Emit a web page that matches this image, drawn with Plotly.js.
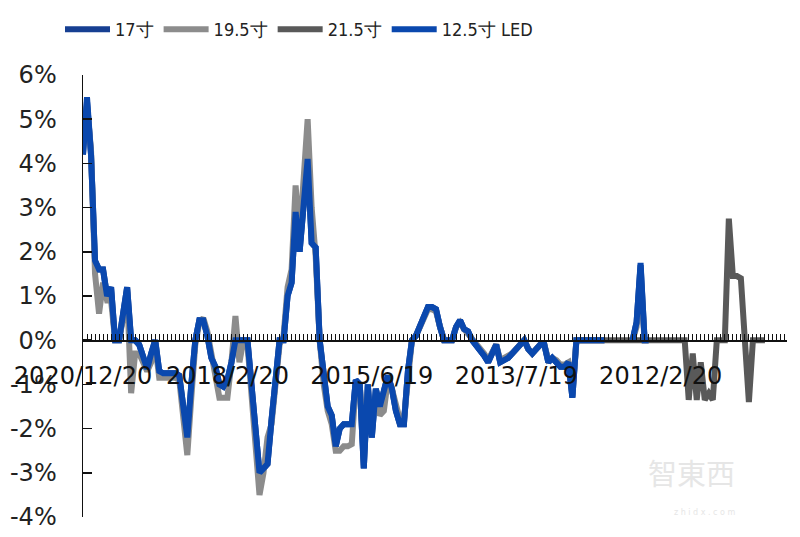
<!DOCTYPE html>
<html>
<head>
<meta charset="utf-8">
<script src="https://cdn.plot.ly/plotly-3.0.1.min.js"></script>
<style>html,body{margin:0;padding:0;background:#fff;}#chart{width:800px;height:537px;}</style>
</head>
<body>
<div id="chart"></div>
<script>
// Category labels shown on the x axis (newest on the left)
const tickLabels = ["2020/12/20", "2018/2/20", "2015/6/19", "2013/7/19", "2012/2/20"];
const tickIndex = [0, 36, 72, 108, 144];
const yTickValues = [-4, -3, -2, -1, 0, 1, 2, 3, 4, 5, 6];
const yTickLabels = ["-4%", "-3%", "-2%", "-1%", "0%", "1%", "2%", "3%", "4%", "5%", "6%"];
const seriesNames = ["17寸", "19.5寸", "21.5寸", "12.5寸 LED"];

// Values in %
const s17 = [
 4.2, 5.4, 4.2, 1.8, 1.6, 1.6, 1.0, 1.2, 0.0, 0.0,
 0.6, 1.2, 0.0, 0.0, -0.1, -0.4, -0.65, -0.3, 0.0, -0.7,
 -0.75, -0.75, -0.75, -0.75, -0.8, -1.6, -2.2, -1.0, 0.0, 0.45,
 0.45, 0.1, -0.4, -0.6, -1.0, -1.05, -0.9, -0.5, 0.0, 0.0,
 0.0, 0.0, -1.0, -2.0, -3.0, -2.9, -2.8, -1.8, -1.0, 0.0,
 0.0, 1.0, 1.3, 2.9, 2.0, 3.0, 4.1, 2.2, 2.1, 0.0,
 -0.9, -1.5, -1.7, -2.4, -2.0, -1.9, -1.9, -1.9, -0.9, -1.0,
 -2.9, -1.0, -2.2, -1.1, -1.5, -1.1, -0.8, -1.1, -1.6, -1.9,
 -1.9, -0.7, 0.0, 0.1, 0.3, 0.5, 0.75, 0.75, 0.7, 0.3,
 0.0, 0.0, 0.0, 0.3, 0.45, 0.25, 0.2, 0.0, -0.1, -0.2,
 -0.35, -0.5, -0.3, -0.1, -0.5, -0.45, -0.4, -0.3, -0.2, -0.1,
 0.0, -0.2, -0.3, -0.2, -0.1, -0.1, -0.5, -0.4, -0.5, -0.6,
 -0.6, -0.5, -1.3, 0.0, 0.0, 0.0, 0.0, 0.0, 0.0, 0.0,
 0.0, null, null, null, null, null, null, 0.0, 0.4, 1.7,
 0.0, 0.0
];
const s195 = [
 4.9, 5.3, 4.3, 1.5, 0.6, 1.3, 0.9, 0.9, 0.0, 0.0,
 0.5, 1.1, -1.2, -0.3, -0.3, -0.5, -0.7, -0.5, -0.1, -0.85,
 -0.85, -0.85, -0.85, -0.85, -0.9, -1.8, -2.6, -1.3, -0.1, 0.4,
 0.5, 0.2, -0.3, -0.7, -1.3, -1.3, -1.3, -0.5, 0.55, -0.5,
 0.0, -0.1, -1.2, -2.4, -3.5, -3.0, -2.2, -1.9, -1.1, -0.1,
 0.1, 1.2, 1.6, 3.5, 2.3, 3.9, 5.0, 3.0, 1.9, 0.0,
 -1.0, -1.6, -1.9, -2.5, -2.5, -2.4, -2.4, -2.35, -1.0, -1.0,
 -2.5, -1.2, -1.9, -1.3, -1.7, -1.6, -0.9, -1.1, -1.5, -1.8,
 -1.8, -0.7, 0.0, 0.1, 0.3, 0.5, 0.7, 0.7, 0.65, 0.3,
 0.0, 0.0, 0.0, 0.3, 0.4, 0.25, 0.15, 0.0, -0.1, -0.2,
 -0.3, -0.45, -0.3, -0.1, -0.45, -0.4, -0.35, -0.3, -0.2, -0.1,
 0.0, -0.2, -0.3, -0.2, -0.1, -0.1, -0.45, -0.4, -0.45, -0.55,
 -0.55, -0.5, -1.2, 0.0, 0.0, 0.0, 0.0, 0.0, 0.0, 0.0,
 0.0, null, null, null, null, null, null, 0.0, 0.3, 1.4,
 0.0, 0.0
];
const s215 = [
 null, null, null, null, null, null, null, null, null, null,
 null, null, null, null, null, null, null, null, null, null,
 null, null, null, null, null, null, null, null, null, null,
 null, null, null, null, null, null, null, null, null, null,
 null, null, null, null, null, null, null, null, null, null,
 null, null, null, null, null, null, null, null, null, null,
 null, null, null, null, null, null, null, null, null, null,
 null, null, null, null, null, null, null, null, null, null,
 null, null, null, null, null, null, null, null, null, null,
 null, null, null, null, null, null, null, null, null, null,
 null, null, null, null, null, null, null, null, null, null,
 null, null, null, null, null, null, null, null, null, null,
 null, null, null, 0.0, 0.0, 0.0, 0.0, 0.0, 0.0, 0.0,
 0.0, 0.0, 0.0, 0.0, 0.0, 0.0, 0.0, 0.0, 0.0, 0.0,
 0.0, 0.0, 0.0, 0.0, 0.0, 0.0, 0.0, 0.0, 0.0, 0.0,
 0.0, -1.35, -0.3, -1.35, -0.5, -1.35, -1.2, -1.35, 0.0, 0.0,
 0.0, 2.75, 1.45, 1.45, 1.4, 0.0, -1.4, 0.0, 0.0, 0.0,
 0.0
];
const sLED = [
 4.2, 5.5, 4.2, 1.8, 1.6, 1.6, 1.0, 1.2, 0.0, 0.0,
 0.6, 1.2, 0.0, 0.0, -0.1, -0.4, -0.65, -0.3, 0.0, -0.7,
 -0.75, -0.75, -0.75, -0.75, -0.8, -1.6, -2.2, -1.0, 0.0, 0.45,
 0.45, 0.1, -0.4, -0.6, -1.0, -1.05, -0.9, -0.5, 0.0, 0.0,
 0.0, 0.0, -1.0, -2.0, -3.0, -2.9, -2.8, -1.8, -1.0, 0.0,
 0.0, 1.0, 1.3, 2.9, 2.0, 3.0, 4.1, 2.2, 2.1, 0.0,
 -0.9, -1.5, -1.7, -2.4, -2.0, -1.9, -1.9, -1.9, -0.9, -1.0,
 -2.9, -1.0, -2.2, -1.1, -1.5, -1.1, -0.8, -1.1, -1.6, -1.9,
 -1.9, -0.7, 0.0, 0.1, 0.3, 0.5, 0.75, 0.75, 0.7, 0.3,
 0.0, 0.0, 0.0, 0.3, 0.45, 0.25, 0.2, 0.0, -0.1, -0.2,
 -0.35, -0.5, -0.3, -0.1, -0.5, -0.45, -0.4, -0.3, -0.2, -0.1,
 0.0, -0.2, -0.3, -0.2, -0.1, -0.1, -0.5, -0.4, -0.5, -0.6,
 -0.6, -0.5, -1.3, 0.0, 0.0, 0.0, 0.0, 0.0, 0.0, 0.0,
 0.0, null, null, null, null, null, null, 0.0, 0.4, 1.75,
 0.0, 0.0
];

const seriesValues = [s17, s195, s215, sLED];
const seriesColors = ["#163F92", "#8C8C8C", "#595959", "#0A48AE"];

const traces = seriesValues.map((vals, k) => ({
  type: "scatter",
  mode: "lines",
  name: seriesNames[k],
  x: vals.map((_, i) => i),
  y: vals,
  connectgaps: false,
  line: {color: seriesColors[k], width: 6},
  hoverinfo: "skip"
}));

const layout = {
  width: 800,
  height: 537,
  margin: {l: 83, r: 13, t: 75, b: 20},
  paper_bgcolor: "#ffffff",
  plot_bgcolor: "#ffffff",
  font: {family: "DejaVu Sans, Verdana, sans-serif", size: 24, color: "#222"},
  showlegend: true,
  legend: {
    orientation: "h",
    xref: "container", yref: "container",
    x: 0.075, y: 0.945, xanchor: "left", yanchor: "middle",
    font: {family: "'DejaVu Sans Condensed', 'Liberation Sans', sans-serif", size: 18, color: "#222"},
    itemwidth: 45,
    bgcolor: "rgba(0,0,0,0)",
    traceorder: "normal"
  },
  xaxis: {
    range: [0, 175.5],
    anchor: "free",
    position: 0.4,
    showgrid: false,
    zeroline: false,
    showline: true,
    linecolor: "#111",
    linewidth: 1.5,
    tickmode: "array",
    tickvals: tickIndex,
    ticktext: tickLabels,
    ticks: "inside",
    ticklen: 6,
    tickcolor: "#111",
    tickwidth: 1,
    ticklabelstandoff: 13,
    tickfont: {size: 24, color: "#111"},
    minor: {tickmode: "linear", tick0: 0, dtick: 1, ticks: "inside", ticklen: 6, tickcolor: "#111", tickwidth: 1, showgrid: false},
    fixedrange: true
  },
  yaxis: {
    range: [-4, 6],
    showgrid: false,
    zeroline: false,
    showline: true,
    linecolor: "#111",
    linewidth: 1.5,
    tickmode: "array",
    tickvals: yTickValues,
    ticktext: yTickLabels,
    ticks: "inside",
    ticklen: 9,
    tickcolor: "#111",
    tickwidth: 1.5,
    ticklabelstandoff: 20,
    tickfont: {size: 24, color: "#222"},
    fixedrange: true
  },
  annotations: [
    {xref: "paper", yref: "paper", x: 0.929, y: 0.05, text: "智東西", showarrow: false,
     font: {family: "Noto Sans CJK TC, sans-serif", size: 29, color: "#e6e6e6"}},
    {xref: "paper", yref: "paper", x: 0.929, y: -0.005, text: "z h i d x . c o m", showarrow: false,
     font: {family: "DejaVu Sans, sans-serif", size: 8, color: "#e6e6e6"}}
  ]
};

Plotly.newPlot("chart", traces, layout, {displayModeBar: false, staticPlot: true});
</script>
</body>
</html>
